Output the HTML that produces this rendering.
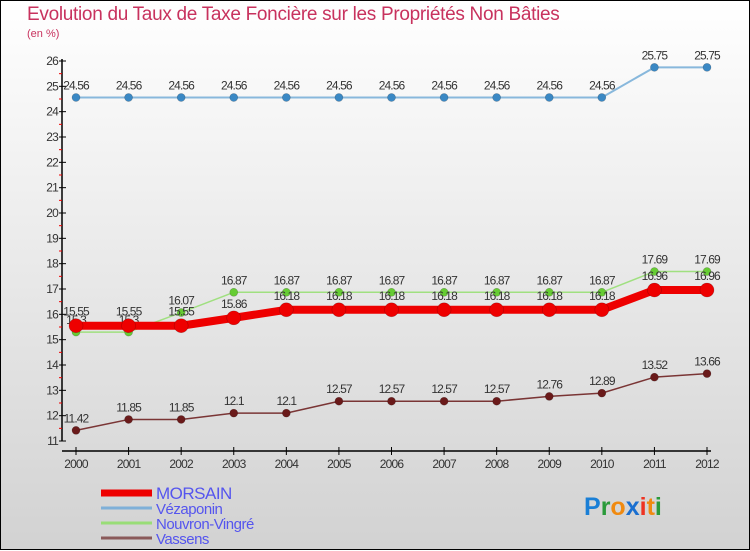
<!DOCTYPE html>
<html><head><meta charset="utf-8"><style>
html,body{margin:0;padding:0}
body{width:750px;height:550px;overflow:hidden;font-family:"Liberation Sans",sans-serif}
#wrap{position:relative;width:748px;height:548px;border:1px solid #000;background:linear-gradient(#ffffff,#d2d2d2)}
#title{position:absolute;left:26px;top:3px;font-size:19px;color:#c8325e;white-space:nowrap;letter-spacing:-0.3px}
#unit{position:absolute;left:26px;top:27px;font-size:11px;color:#c8325e}
svg{position:absolute;left:0;top:0}
</style></head><body>
<div id="wrap">
<div id="title">Evolution du Taux de Taxe Foncière sur les Propriétés Non Bâties</div>
<div id="unit">(en %)</div>
<svg id="chart" width="750" height="550"></svg>
</div>
<script>
const years=[2000,2001,2002,2003,2004,2005,2006,2007,2008,2009,2010,2011,2012];
const morsain=[15.55,15.55,15.55,15.86,16.18,16.18,16.18,16.18,16.18,16.18,16.18,16.96,16.96];
const vezaponin=[24.56,24.56,24.56,24.56,24.56,24.56,24.56,24.56,24.56,24.56,24.56,25.75,25.75];
const nouvron=[15.3,15.3,16.07,16.87,16.87,16.87,16.87,16.87,16.87,16.87,16.87,17.69,17.69];
const vassens=[11.42,11.85,11.85,12.1,12.1,12.57,12.57,12.57,12.57,12.76,12.89,13.52,13.66];
const yTicks=[11,12,13,14,15,16,17,18,19,20,21,22,23,24,25,26];
const seriesNames=["MORSAIN","Vézaponin","Nouvron-Vingré","Vassens"];

const NS="http://www.w3.org/2000/svg";
const svg=document.getElementById('chart');
const x=i=>75+(706-75)*i/(years.length-1);
const y=v=>440-(v-11)*(440-60)/15;
function el(t,a,p){const e=document.createElementNS(NS,t);for(const k in a)e.setAttribute(k,a[k]);(p||svg).appendChild(e);return e;}
function txt(s,a){const e=el('text',a);e.textContent=s;return e;}

const ax=el('line',{x1:61,y1:58,x2:61,y2:440,stroke:'#000','stroke-width':1.5});


const xa=el('line',{x1:61,y1:450,x2:710,y2:450,stroke:'#000','stroke-width':1.5});


yTicks.forEach(v=>{
  el('line',{x1:58,y1:y(v),x2:65,y2:y(v),stroke:'#000','stroke-width':1});
  if(v<26) el('line',{x1:58,y1:y(v+0.5),x2:61,y2:y(v+0.5),stroke:'#e00','stroke-width':1});
  const t=txt(String(v),{x:57,y:y(v)+4,'text-anchor':'end','font-size':12,fill:'#333','letter-spacing':'-0.8'});
  
  
});
years.forEach((yr,i)=>{
  el('line',{x1:x(i),y1:446,x2:x(i),y2:454,stroke:'#000','stroke-width':1});
  const t=txt(String(yr),{x:x(i),y:467,'text-anchor':'middle','font-size':12,fill:'#333','letter-spacing':'-0.8'});
  
  
});

function series(vals,color,dot,w,r,name,labelDy){
  const g=el('g',{});
  
  
  el('polyline',{points:vals.map((v,i)=>x(i)+','+y(v)).join(' '),fill:'none',stroke:color,'stroke-width':w,'stroke-linejoin':'round'},g);
  vals.forEach((v,i)=>{
    const c=el('circle',{cx:x(i),cy:y(v),r:r,fill:dot,stroke:'rgba(0,0,0,0.25)','stroke-width':0.6},g);
    
    
    const t=el('text',{x:x(i),y:y(v)+labelDy,'text-anchor':'middle','font-size':12,fill:'#333','letter-spacing':'-0.9'},g);
    t.textContent=String(v);
    
    
  });
}
series(vezaponin,'#88b8dc','#3a88c4',2,4,'vezaponin',-8);
series(nouvron,'#a0e080','#66cc33',1.5,4,'nouvron-vingre',-8);
series(morsain,'#ee0000','#ee0000',8,7,'morsain',-10);
series(vassens,'#7a3535','#6a1a1a',1.5,4,'vassens',-8);

const lc=['#ee0000','#7fb0d8','#99dd77','#8a5a5a'];
const lw=[7,3,3,3];
seriesNames.forEach((n,i)=>{
  const yy=492+i*15;
  const l=el('line',{x1:100,y1:yy,x2:151,y2:yy,stroke:lc[i],'stroke-width':lw[i]});
  
  
  const t=txt(n,{x:155,y:yy+6,'font-size':i==0?17:15,fill:'#5555ee','letter-spacing':'-0.5'});
  
  
});
const logo=el('text',{x:583,y:514,'font-size':25,'font-weight':'bold','font-family':'"Liberation Sans",sans-serif'});


[['P','#1a7fd6'],['r','#2a9a3a'],['o','#f08a10'],['x','#1a6fd0'],['i','#ee3322'],['t','#f08a10'],['i','#2a9a3a']].forEach(([c,f])=>{
  const s=el('tspan',{fill:f},logo);s.textContent=c;
});
</script>
</body></html>
